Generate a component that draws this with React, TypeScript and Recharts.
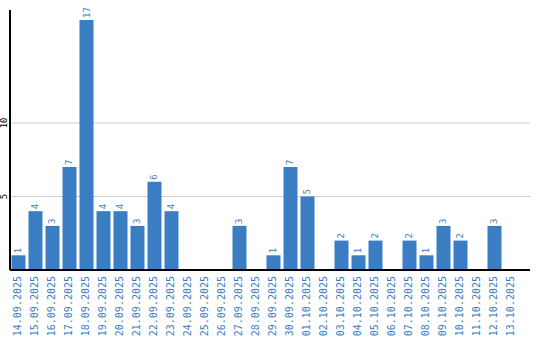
import { BarChart, Bar, XAxis, YAxis, CartesianGrid, LabelList } from "recharts";

const dates = [
  "14.09.2025", "15.09.2025", "16.09.2025", "17.09.2025", "18.09.2025",
  "19.09.2025", "20.09.2025", "21.09.2025", "22.09.2025", "23.09.2025",
  "24.09.2025", "25.09.2025", "26.09.2025", "27.09.2025", "28.09.2025",
  "29.09.2025", "30.09.2025", "01.10.2025", "02.10.2025", "03.10.2025",
  "04.10.2025", "05.10.2025", "06.10.2025", "07.10.2025", "08.10.2025",
  "09.10.2025", "10.10.2025", "11.10.2025", "12.10.2025", "13.10.2025",
];
const counts = [1, 4, 3, 7, 17, 4, 4, 3, 6, 4, 0, 0, 0, 3, 0, 1, 7, 5, 0, 2, 1, 2, 0, 2, 1, 3, 2, 0, 3, 0];
const yTicks = [5, 10];

const BLUE = "#3b7dc3";
const MONO = "'DejaVu Sans Mono', monospace";

const data = dates.map((d, i) => ({ date: d, count: counts[i] }));

const XTick = (props: any) => {
  const { x, payload } = props;
  const tx = x - 1;
  const ty = 276;
  return (
    <text
      x={tx}
      y={ty}
      transform={`rotate(-90, ${tx}, ${ty})`}
      textAnchor="end"
      dominantBaseline="central"
      fill={BLUE}
      fontFamily={MONO}
      fontSize={10}
    >
      {payload.value}
    </text>
  );
};

const YTick = (props: any) => {
  const { y, payload } = props;
  return (
    <text
      x={4}
      y={y}
      transform={`rotate(-90, 4, ${y})`}
      textAnchor="middle"
      dominantBaseline="central"
      fill="#000"
      fontFamily={MONO}
      fontSize={9}
    >
      {payload.value}
    </text>
  );
};

const ValueLabel = (props: any) => {
  const { x, y, width, value } = props;
  if (!value) return null;
  const cx = x + width / 2;
  const ty = y - 2;
  return (
    <text
      x={cx}
      y={ty}
      transform={`rotate(-90, ${cx}, ${ty})`}
      textAnchor="start"
      dominantBaseline="central"
      fill={BLUE}
      fontFamily={MONO}
      fontSize={9}
    >
      {value}
    </text>
  );
};

export default function App() {
  return (
    <div style={{ position: "absolute", left: 0, top: 0 }}>
      <BarChart
        width={540}
        height={340}
        data={data}
        margin={{ top: 10, right: 10, left: 0, bottom: 0 }}
        barCategoryGap={1.5}
      >
        <CartesianGrid horizontal vertical={false} stroke="#cccccc" horizontalValues={yTicks} />
        <XAxis
          dataKey="date"
          interval={0}
          height={70}
          tickLine={false}
          axisLine={{ stroke: "#000", strokeWidth: 2 }}
          tick={<XTick />}
          padding={{ left: 0, right: 10 }}
        />
        <YAxis
          width={10}
          domain={[0, 17.68]}
          ticks={yTicks}
          tickLine={false}
          axisLine={{ stroke: "#000", strokeWidth: 2 }}
          tick={<YTick />}
          allowDataOverflow
        />
        <Bar dataKey="count" fill={BLUE} isAnimationActive={false}>
          <LabelList dataKey="count" content={<ValueLabel />} />
        </Bar>
      </BarChart>
    </div>
  );
}
